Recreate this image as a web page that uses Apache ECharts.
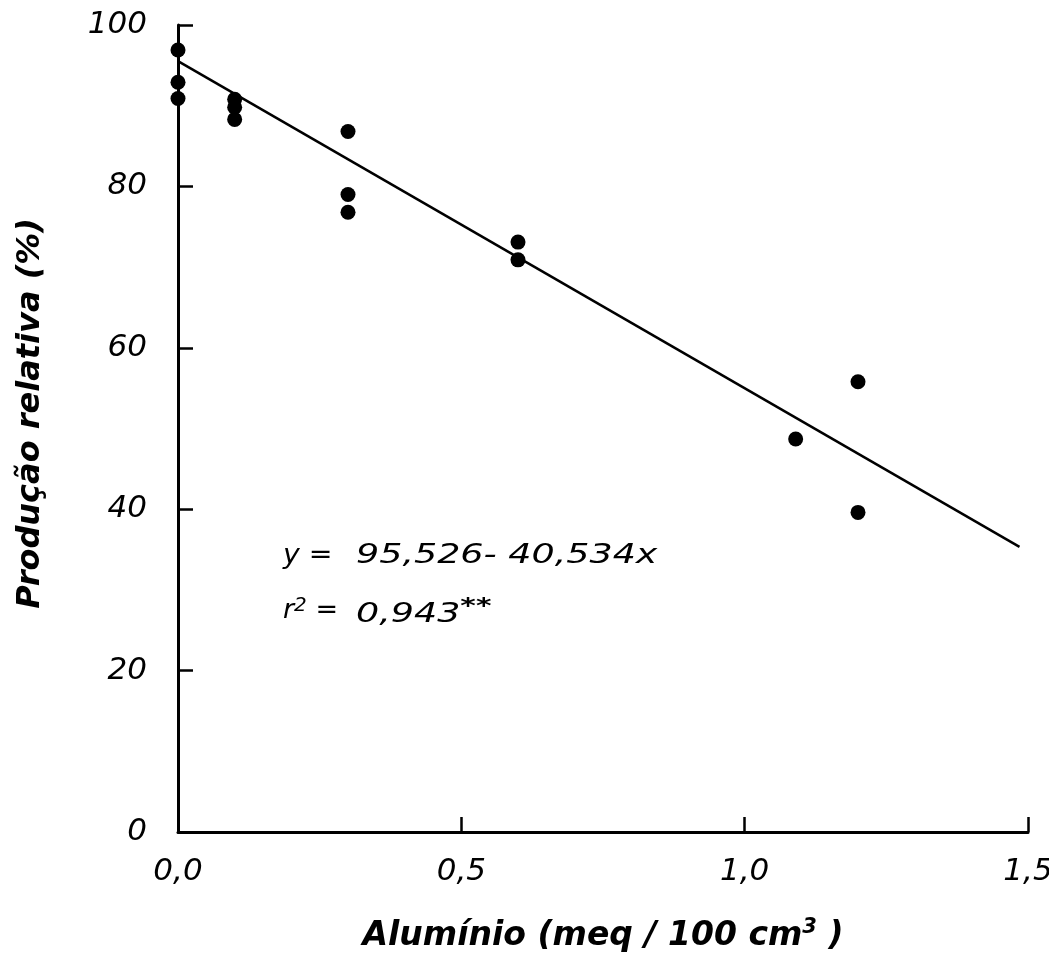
<!DOCTYPE html>
<html>
<head>
<meta charset="utf-8">
<script src="https://cdn.jsdelivr.net/npm/echarts@6/dist/echarts.min.js"></script>
<style>html,body{margin:0;padding:0;background:#fff;}#chart{width:1049px;height:956px;}</style>
</head>
<body>
<div id="chart"></div>
<script>
// Observed points (Alumínio, Produção relativa)
const aluminio = [0, 0, 0, 0.1, 0.1, 0.1, 0.3, 0.3, 0.3, 0.6, 0.6, 1.09, 1.2, 1.2];
const producao = [96.9, 92.9, 90.9, 90.8, 89.8, 88.3, 86.8, 79.0, 76.8, 73.1, 70.9, 48.7, 55.8, 39.6];
// Regression line endpoints (y = 95,526 - 40,534x)
const lineX = [0, 1.485];
const lineY = [95.526, 35.33];
const xTicks = ['0,0', '0,5', '1,0', '1,5'];
const yTicks = [0, 20, 40, 60, 80, 100];

const FONT = 'DejaVu Sans';
const chart = echarts.init(document.getElementById('chart'));
chart.setOption({
  backgroundColor: '#fff',
  animation: false,
  grid: {left: 178, right: 21, top: 25, bottom: 124, outerBoundsMode: 'none', containLabel: false},
  xAxis: {
    type: 'value', min: 0, max: 1.5, interval: 0.5,
    axisLine: {show: true, lineStyle: {color: '#000', width: 3}},
    axisTick: {show: true, inside: true, length: 15, lineStyle: {color: '#000', width: 2.5}},
    splitLine: {show: false},
    axisLabel: {
      margin: 24, color: '#000', fontFamily: FONT, fontStyle: 'italic', fontSize: 31,
      formatter: v => xTicks[Math.round(v / 0.5)]
    },
    name: 'Alumínio (meq / 100 cm{s|3} )',
    nameLocation: 'middle', nameGap: 85,
    nameTextStyle: {
      color: '#000', fontFamily: FONT, fontStyle: 'italic', fontWeight: 'bold', fontSize: 33,
      rich: {s: {fontFamily: FONT, fontStyle: 'italic', fontWeight: 'bold', fontSize: 21, verticalAlign: 'top', padding: [0,0,18,0], color: '#000'}}
    }
  },
  yAxis: {
    type: 'value', min: 0, max: 100, interval: 20,
    axisLine: {show: true, lineStyle: {color: '#000', width: 3}},
    axisTick: {show: true, inside: true, length: 15, lineStyle: {color: '#000', width: 2.5}},
    splitLine: {show: false},
    axisLabel: {
      margin: 31, color: '#000', fontFamily: FONT, fontStyle: 'italic', fontSize: 31,
      formatter: v => String(yTicks[Math.round(v / 20)])
    }
  },
  graphic: [
    {
      type: 'text', left: 15, top: 218,
      rotation: Math.PI / 2,
      style: {
        text: 'Produção relativa (%)', fill: '#000',
        font: 'italic bold 32px "DejaVu Sans"'
      }
    },
    {
      type: 'text', x: 283, y: 542, scaleX: 1.05,
      style: {text: 'y =', fill: '#000', font: 'italic 27px "DejaVu Sans"'}
    },
    {
      type: 'text', x: 356, y: 542, scaleX: 1.35,
      style: {text: '95,526- 40,534x', fill: '#000', font: 'italic 27px "DejaVu Sans"'}
    },
    {
      type: 'text', x: 283, y: 596, scaleX: 1.0,
      style: {
        text: '{a|r}{s|2}{a| =}',
        rich: {
          a: {fill: '#000', fontFamily: FONT, fontStyle: 'italic', fontSize: 27},
          s: {fill: '#000', fontFamily: FONT, fontStyle: 'italic', fontSize: 20, verticalAlign: 'top', padding: [0,0,10,0]}
        }
      }
    },
    {
      type: 'text', x: 356, y: 596, scaleX: 1.35,
      style: {
        text: '{a|0,943}{s|**}',
        rich: {
          a: {fill: '#000', fontFamily: FONT, fontStyle: 'italic', fontSize: 27},
          s: {fill: '#000', fontFamily: FONT, fontStyle: 'italic', fontWeight: 'bold', fontSize: 22, verticalAlign: 'top', padding: [0,0,16,0]}
        }
      }
    }
  ],
  series: [
    {
      type: 'line', data: lineX.map((x, i) => [x, lineY[i]]),
      showSymbol: false, symbol: 'none',
      lineStyle: {color: '#000', width: 2.5}, silent: true, z: 2
    },
    {
      type: 'scatter', data: aluminio.map((x, i) => [x, producao[i]]),
      symbol: 'circle', symbolSize: 15,
      itemStyle: {color: '#000', opacity: 1}, z: 3
    }
  ]
});
</script>
</body>
</html>
